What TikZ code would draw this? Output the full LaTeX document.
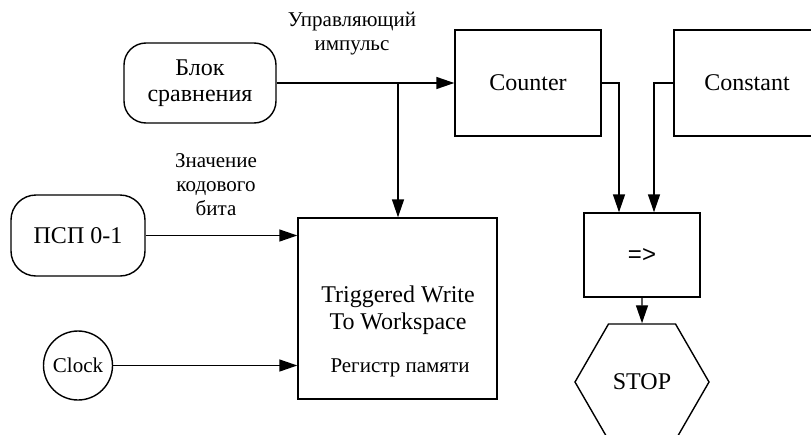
\documentclass[tikz,border=0pt]{standalone}
\usepackage{fontspec}
\setmainfont{Liberation Serif}
\newfontfamily\arialf{Liberation Sans}
\usetikzlibrary{arrows.meta,shapes.geometric}
\begin{document}
\begin{tikzpicture}[x=1pt,y=-1pt, line width=1.4pt,
  box/.style={draw, rectangle, inner sep=0pt, font=\fontsize{24}{26}\selectfont},
  rbox/.style={box, rounded corners=22pt, align=center},
  txt/.style={inner sep=0pt, align=center, font=\fontsize{24}{27}\selectfont},
  lbl/.style={inner sep=0pt, align=center, font=\fontsize{21}{24}\selectfont},
  arr/.style={-{Triangle[length=18pt,width=12pt]}}]
\useasboundingbox (0,0) rectangle (811,434);
% nodes
\node[rbox, minimum width=152pt, minimum height=80pt] (blok) at (200,83) {Блок\\сравнения};
\node[box, minimum width=146pt, minimum height=106pt] (counter) at (528,83) {Counter};
\node[box, minimum width=146pt, minimum height=106pt] (constant) at (747,83) {Constant};
\node[rbox, minimum width=134pt, minimum height=81pt, rounded corners=25pt] (psp) at (78,235.5) {ПСП 0-1};
\node[box, minimum width=199pt, minimum height=181pt] (trig) at (397.5,308.5) {};
\node[txt] (trigtext) at (398,310) {Triggered Write\\To Workspace};
\node[lbl] (reg) at (400,367.4) {Регистр памяти};
\node[draw, circle, inner sep=0pt, minimum size=69pt, font=\fontsize{21}{24}\selectfont] (clock) at (78,365.5) {Clock};
\node[box, minimum width=116pt, minimum height=84pt, font=\arialf\fontsize{24}{26}\selectfont] (cmp) at (642,255) {=>};
\node[draw, regular polygon, regular polygon sides=6, minimum size=134pt, inner sep=0pt, font=\fontsize{24}{26}\selectfont] (stop) at (642,382) {STOP};
\node[lbl] (l1) at (352,33.5) {Управляющий\\импульс};
\node[lbl] (l2) at (216,185) {Значение\\кодового\\бита};
\coordinate (j) at (398,83);
% connectors
\draw[arr] (blok.east) -- (counter.west);
\draw[arr] (j) -- (j |- trig.north);
\draw[arr] (psp.east) -- (psp.east -| trig.west);
\draw[arr] (clock.east) -- (clock.east -| trig.west);
\draw[arr] (counter.east) -| ([xshift=-23pt]cmp.north);
\draw[arr] (constant.west) -| ([xshift=12pt]cmp.north);
\draw[arr] (cmp.south) -- (stop.north);
\end{tikzpicture}
\end{document}
